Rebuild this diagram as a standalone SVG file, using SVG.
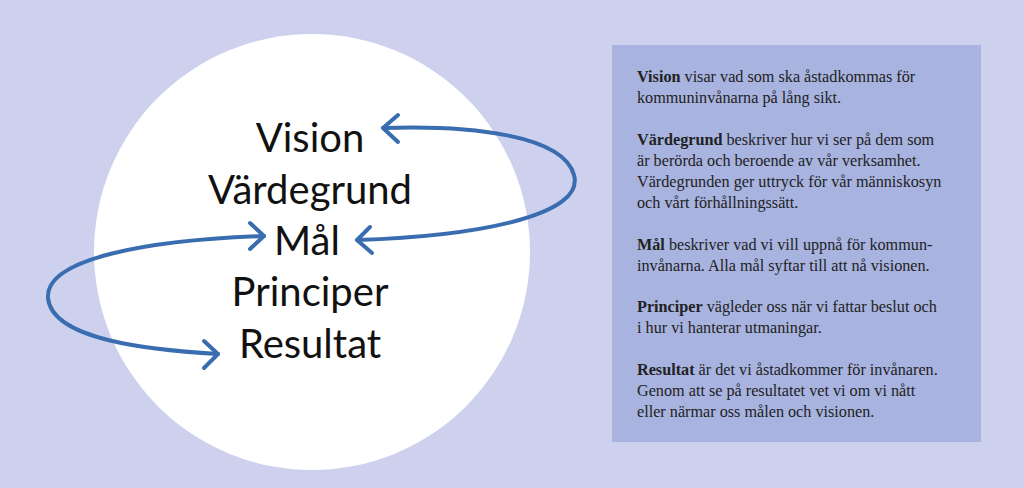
<svg xmlns="http://www.w3.org/2000/svg" width="1024" height="488" viewBox="0 0 1024 488">
<style>
.big{font-family:Lato,"Open Sans",sans-serif;font-size:40px;fill:#111;text-anchor:middle}
.t{font-family:"Liberation Serif",serif;font-size:16.2px;fill:#222}
.arc{fill:none;stroke:#3a6cb0;stroke-width:4;stroke-linecap:round;stroke-linejoin:round}
</style>
<rect width="1024" height="488" fill="#cdd1ee"/>
<g id="circle"><ellipse cx="312" cy="252" rx="218" ry="218" fill="#fff"/></g>
<g id="box"><rect x="612" y="45" width="369" height="397" fill="#a8b3e0"/>
<text class="t" x="637" y="82"><tspan font-weight="bold">Vision</tspan> visar vad som ska åstadkommas för</text>
<text class="t" x="637" y="103">kommuninvånarna på lång sikt.</text>
<text class="t" x="637" y="145"><tspan font-weight="bold">Värdegrund</tspan> beskriver hur vi ser på dem som</text>
<text class="t" x="637" y="166">är berörda och beroende av vår verksamhet.</text>
<text class="t" x="637" y="187">Värdegrunden ger uttryck för vår människosyn</text>
<text class="t" x="637" y="208">och vårt förhållningssätt.</text>
<text class="t" x="637" y="250"><tspan font-weight="bold">Mål</tspan> beskriver vad vi vill uppnå för kommun-</text>
<text class="t" x="637" y="271">invånarna. Alla mål syftar till att nå visionen.</text>
<text class="t" x="637" y="312"><tspan font-weight="bold">Principer</tspan> vägleder oss när vi fattar beslut och</text>
<text class="t" x="637" y="333">i hur vi hanterar utmaningar.</text>
<text class="t" x="637" y="375"><tspan font-weight="bold">Resultat</tspan> är det vi åstadkommer för invånaren.</text>
<text class="t" x="637" y="396">Genom att se på resultatet vet vi om vi nått</text>
<text class="t" x="637" y="417">eller närmar oss målen och visionen.</text>
</g>
<g id="words">
<text class="big" x="310" y="152">Vision</text>
<text class="big" x="310" y="204">Värdegrund</text>
<text class="big" x="307" y="255">Mål</text>
<text class="big" x="310" y="306">Principer</text>
<text class="big" x="310" y="358">Resultat</text>
</g>
<g id="connectors">
<path class="arc" d="M357,240 C480,236 585,215 574,175 C563,135 470,125 383,128"/>
<path class="arc" d="M398,115 L383,128 L398,142"/>
<path class="arc" d="M370,227 L357,240 L372,253"/>
<path class="arc" d="M264,236 C150,240 45,258 48,298 C52,340 150,350 218,354"/>
<path class="arc" d="M250,223 L264,236 L250,249"/>
<path class="arc" d="M204,341 L218,354 L204,368"/>
</g>
</svg>
